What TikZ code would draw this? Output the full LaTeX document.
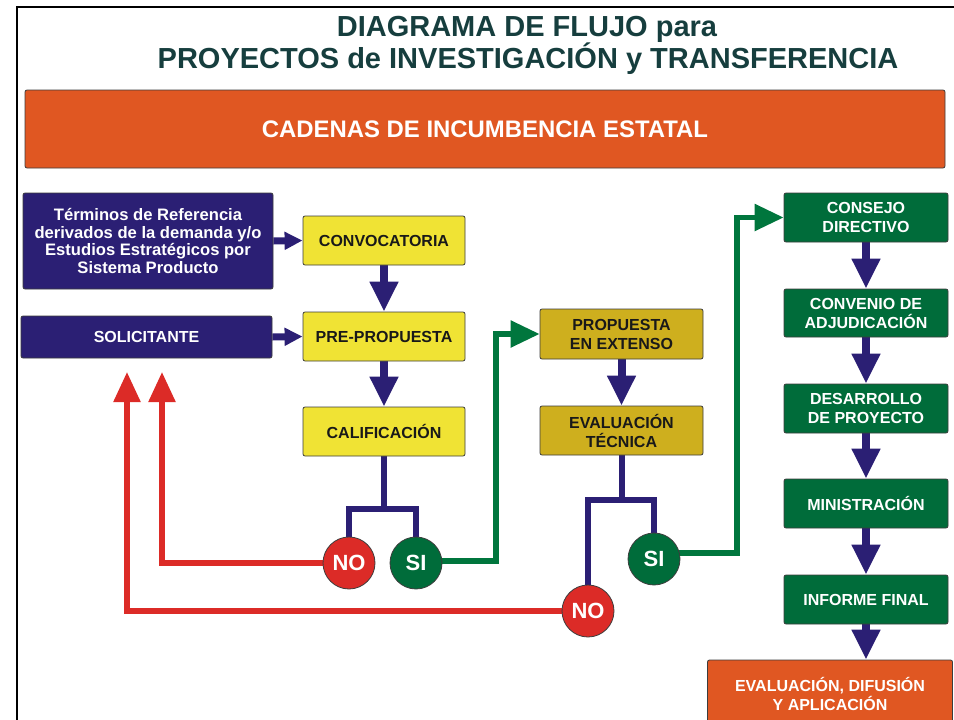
\documentclass[tikz,border=0pt]{standalone}
\usepackage{fontspec}
\setmainfont{Liberation Sans}
\usetikzlibrary{arrows.meta,backgrounds}
\definecolor{navy}{RGB}{43,31,116}
\definecolor{yellowbox}{RGB}{240,227,52}
\definecolor{goldbox}{RGB}{206,175,30}
\definecolor{greenbox}{RGB}{0,108,58}
\definecolor{orangebox}{RGB}{224,87,34}
\definecolor{redc}{RGB}{220,43,39}
\definecolor{greenl}{RGB}{0,118,61}
\definecolor{titlec}{RGB}{22,62,62}
\definecolor{boxline}{RGB}{60,60,60}
\definecolor{darktext}{RGB}{25,25,25}
\begin{document}
\begin{tikzpicture}[x=1pt,y=-1pt,
  box/.style={draw=boxline, line width=0.8pt, rounded corners=2pt, inner sep=2pt, align=center,
    font=\bfseries\fontsize{16}{19}\selectfont},
  navybox/.style={box, fill=navy, text=white},
  yellowstyle/.style={box, fill=yellowbox, text=darktext, minimum width=162pt, minimum height=49pt},
  goldstyle/.style={box, fill=goldbox, text=darktext, minimum width=163pt, minimum height=49pt},
  greenstyle/.style={box, fill=greenbox, text=white, minimum width=164pt, minimum height=49pt},
  orangestyle/.style={box, fill=orangebox, text=white},
  titlestyle/.style={text=titlec, font=\bfseries\fontsize{29}{32}\selectfont, inner sep=0pt},
  decision/.style={circle, draw=boxline, line width=0.8pt, minimum size=52pt, inner sep=0pt,
    text=white, font=\bfseries\fontsize{22}{24}\selectfont},
  nocircle/.style={decision, fill=redc},
  sicircle/.style={decision, fill=greenbox},
  navyarrow/.style={draw=navy, line width=8pt, -{Triangle[length=30pt,width=27pt]}},
  navysmall/.style={draw=navy, line width=7pt, -{Triangle[length=18pt,width=17pt]}},
  branch/.style={draw=navy, line width=6pt},
  redarrow/.style={draw=redc, line width=5.5pt, -{Triangle[length=30pt,width=26pt]}},
  greenarrow/.style={draw=greenl, line width=5.5pt, -{Triangle[length=29pt,width=26pt]}}
]
\useasboundingbox (0,0) rectangle (954,720);
\draw[line width=2pt] (17,721) -- (17,7) -- (955,7);

% titles
\node[titlestyle, anchor=base] (t1) at (527,36) {DIAGRAMA DE FLUJO para};
\node[titlestyle, anchor=base] (t2) at (528,68) {PROYECTOS de INVESTIGACIÓN y TRANSFERENCIA};

% banner
\node[orangestyle, minimum width=920pt, minimum height=78pt, font=\bfseries\fontsize{23.9}{26}\selectfont] (ban) at (485,129) {CADENAS DE INCUMBENCIA ESTATAL};

% left column
\node[navybox, minimum width=250pt, minimum height=96pt, font=\bfseries\fontsize{16.6}{17.7}\selectfont] (tr) at (148,241)
  {Términos de Referencia\\derivados de la demanda y/o\\Estudios Estratégicos por\\Sistema Producto};
\node[navybox, minimum width=251pt, minimum height=42pt] (sol) at (146.5,337) {SOLICITANTE};

% yellow column
\node[yellowstyle] (conv) at (384,240.5) {CONVOCATORIA};
\node[yellowstyle] (pre) at (384,336.5) {PRE-PROPUESTA};
\node[yellowstyle] (cal) at (384,431.5) {CALIFICACIÓN};

% gold column
\node[goldstyle, minimum height=50pt] (pe) at (621.5,334) {PROPUESTA\\EN EXTENSO};
\node[goldstyle] (et) at (621.5,430.5) {EVALUACIÓN\\TÉCNICA};

% green column
\node[greenstyle] (cd) at (866,217.5) {CONSEJO\\DIRECTIVO};
\node[greenstyle, minimum height=48pt] (ca) at (866,313) {CONVENIO DE\\ADJUDICACIÓN};
\node[greenstyle] (dp) at (866,408.5) {DESARROLLO\\DE PROYECTO};
\node[greenstyle] (min) at (866,503.5) {MINISTRACIÓN};
\node[greenstyle] (inf) at (866,599.5) {INFORME FINAL};
\node[orangestyle, minimum width=245pt, minimum height=67pt] (eda) at (830,693.5) {EVALUACIÓN, DIFUSIÓN\\Y APLICACIÓN};

% decisions
\node[nocircle] (no1) at (349,563) {NO};
\node[sicircle] (si1) at (416,563) {SI};
\node[sicircle] (si2) at (654,559) {SI};
\node[nocircle] (no2) at (588,611) {NO};

% coordinates
\coordinate (b1) at (384,509);
\coordinate (b2) at (621.5,500);
\coordinate (tipA) at (162,372);
\coordinate (tipB) at (127,372);
\coordinate (g1) at (496,334);
\coordinate (g2) at (737,217.5);

\begin{scope}[on background layer]
  \draw[navysmall] (tr.east) -- (conv.west);
  \draw[navysmall] (sol.east) -- (pre.west);
  \draw[navyarrow] (conv.south) -- (pre.north);
  \draw[navyarrow] (pre.south) -- (cal.north);
  \draw[navyarrow] (pe.south) -- (et.north);
  \draw[navyarrow] (cd.south) -- (ca.north);
  \draw[navyarrow] (ca.south) -- (dp.north);
  \draw[navyarrow] (dp.south) -- (min.north);
  \draw[navyarrow] (min.south) -- (inf.north);
  \draw[navyarrow] (inf.south) -- (inf.south |- eda.north);
  % branches
  \draw[branch] (cal.south) -- (b1);
  \draw[branch] (no1) -- (no1 |- b1) -- (si1 |- b1) -- (si1);
  \draw[branch] (et.south) -- (b2);
  \draw[branch] (no2) -- (no2 |- b2) -- (si2 |- b2) -- (si2);
  % red returns
  \draw[redarrow] (no1) -| (tipA);
  \draw[redarrow] (no2) -| (tipB);
  % green continues
  \draw[greenarrow] ([yshift=2pt]si1.center) -| (g1) -- (pe.west);
  \draw[greenarrow] ([yshift=6pt]si2.center) -| (g2) -- (cd.west);
\end{scope}
\end{tikzpicture}
\end{document}
